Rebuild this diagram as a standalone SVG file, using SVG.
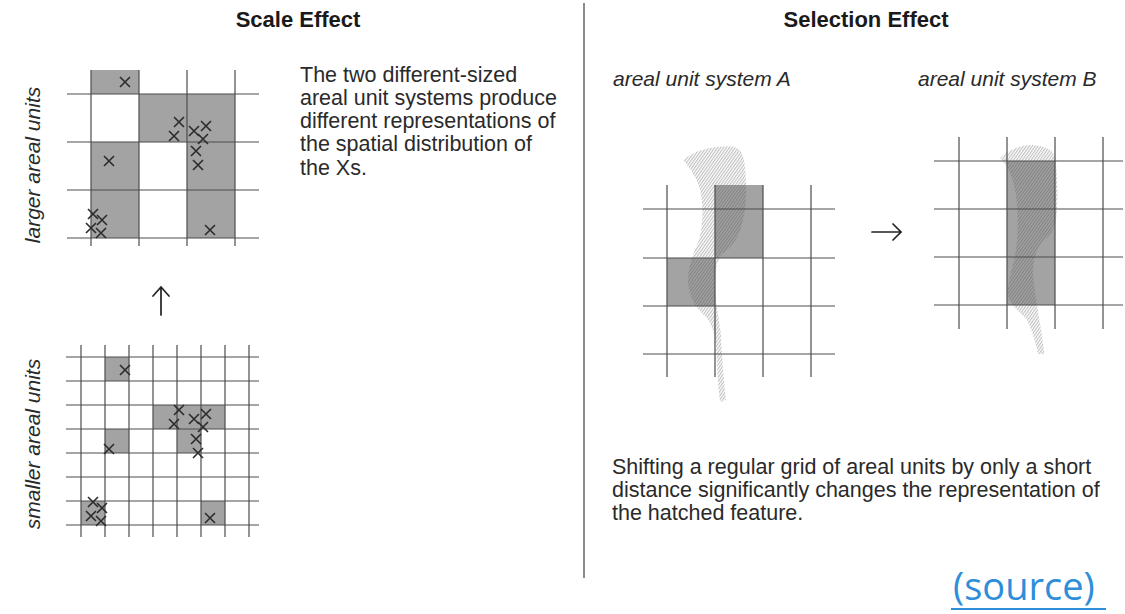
<svg xmlns="http://www.w3.org/2000/svg" xmlns:xlink="http://www.w3.org/1999/xlink" width="1125" height="614" viewBox="0 0 1125 614">
  <style>
    .title { font-family: "Liberation Sans", Arial, sans-serif; font-weight: bold; font-size: 22px; fill: #1a1a1a; text-anchor: middle; }
    .body { font-family: "Liberation Sans", Arial, sans-serif; font-size: 21.5px; fill: #2a2a2a; }
    .label { font-family: "Liberation Sans", Arial, sans-serif; font-style: italic; font-size: 21px; fill: #2a2a2a; }
    .grid { stroke: #4d4d4d; stroke-width: 1.2; fill: none; }
    .cell { fill: #474747; fill-opacity: 0.5; stroke: none; }
    .hatch { fill: url(#hatch); stroke: none; }
    .cross { stroke: #2b2b2b; stroke-width: 1.6; fill: none; }
    .arrow { stroke: #222; stroke-width: 1.7; fill: none; stroke-linecap: round; }
    .link { font-family: "Open Sans", "Noto Sans", sans-serif; font-size: 38px; fill: #2f8ed9; }
  </style>
  <defs>
    <pattern id="hatch" patternUnits="userSpaceOnUse" width="2.4" height="10" patternTransform="rotate(35)">
      <line x1="0.6" y1="0" x2="0.6" y2="10" stroke="#b0b0b0" stroke-width="0.9"/>
    </pattern>
    <path id="x" d="M-5,-5 L5,5 M5,-5 L-5,5"/>
  </defs>

  <rect width="1125" height="614" fill="#ffffff"/>

  <!-- headings and divider -->
  <text class="title" x="298" y="27">Scale Effect</text>
  <text class="title" x="866" y="27">Selection Effect</text>
  <line x1="584" y1="3" x2="584" y2="578" stroke="#666" stroke-width="1.5"/>

  <!-- larger areal units -->
  <g id="larger-units">
    <text class="label" transform="translate(40 165) rotate(-90)" text-anchor="middle">larger areal units</text>
    <rect class="cell" x="91" y="70" width="48" height="24"/>
    <rect class="cell" x="139" y="94" width="96" height="48"/>
    <rect class="cell" x="91" y="142" width="48" height="96"/>
    <rect class="cell" x="187" y="142" width="48" height="96"/>
    <path class="grid" d="M67,94 H259 M67,142 H259 M67,190 H259 M67,238 H259 M91,70 V246 M139,70 V246 M187,70 V246 M235,70 V246"/>
    <g class="cross">
      <use xlink:href="#x" x="125" y="82"/>
      <use xlink:href="#x" x="179" y="122"/>
      <use xlink:href="#x" x="174" y="136"/>
      <use xlink:href="#x" x="194" y="131"/>
      <use xlink:href="#x" x="206" y="126"/>
      <use xlink:href="#x" x="203" y="139"/>
      <use xlink:href="#x" x="196" y="151"/>
      <use xlink:href="#x" x="198" y="165"/>
      <use xlink:href="#x" x="109" y="161"/>
      <use xlink:href="#x" x="93" y="214"/>
      <use xlink:href="#x" x="102" y="220"/>
      <use xlink:href="#x" x="91" y="228"/>
      <use xlink:href="#x" x="101" y="233"/>
      <use xlink:href="#x" x="210" y="230"/>
    </g>
  </g>

  <!-- smaller areal units -->
  <g id="smaller-units">
    <text class="label" transform="translate(40 444) rotate(-90)" text-anchor="middle">smaller areal units</text>
    <rect class="cell" x="105" y="357" width="24" height="24"/>
    <rect class="cell" x="153" y="405" width="72" height="24"/>
    <rect class="cell" x="177" y="429" width="24" height="24"/>
    <rect class="cell" x="105" y="429" width="24" height="24"/>
    <rect class="cell" x="81" y="501" width="24" height="24"/>
    <rect class="cell" x="201" y="501" width="24" height="24"/>
    <path class="grid" d="M66,357 H259 M66,381 H259 M66,405 H259 M66,429 H259 M66,453 H259 M66,477 H259 M66,501 H259 M66,525 H259 M81,345 V537 M105,345 V537 M129,345 V537 M153,345 V537 M177,345 V537 M201,345 V537 M225,345 V537 M249,345 V537"/>
    <g class="cross">
      <use xlink:href="#x" x="125" y="370"/>
      <use xlink:href="#x" x="179" y="410"/>
      <use xlink:href="#x" x="174" y="424"/>
      <use xlink:href="#x" x="194" y="419"/>
      <use xlink:href="#x" x="206" y="414"/>
      <use xlink:href="#x" x="203" y="427"/>
      <use xlink:href="#x" x="196" y="439"/>
      <use xlink:href="#x" x="198" y="453"/>
      <use xlink:href="#x" x="109" y="449"/>
      <use xlink:href="#x" x="93" y="502"/>
      <use xlink:href="#x" x="102" y="508"/>
      <use xlink:href="#x" x="91" y="516"/>
      <use xlink:href="#x" x="101" y="521"/>
      <use xlink:href="#x" x="210" y="518"/>
    </g>
  </g>

  <!-- scale effect caption -->
  <g id="scale-caption">
    <text class="body">
      <tspan x="300" y="82">The two different-sized</tspan>
      <tspan x="300" y="105">areal unit systems produce</tspan>
      <tspan x="300" y="128">different representations of</tspan>
      <tspan x="300" y="151">the spatial distribution of</tspan>
      <tspan x="300" y="175">the Xs.</tspan>
    </text>
  </g>

  <!-- areal unit system A -->
  <g id="system-a">
    <text class="label" x="613" y="86">areal unit system A</text>
    <path class="hatch" d="M683,160 C695,150 712,146 730,146.5 C738,147 742,150 744,160 C747,180 747,205 743,220 C740,235 732,248 722,254 C716,262 714,275 715,290 C716,305 719,318 721,335 C722,360 724,380 726,400 L720,402 C718,385 717,365 716,345 C715,335 712,325 707,318 C696,308 689,298 688,282 C688,265 694,252 699,240 C703,225 704,205 700,190 C697,178 690,168 683,160 Z"/>
    <rect class="cell" x="715" y="185" width="48" height="73"/>
    <rect class="cell" x="667" y="258" width="48" height="48"/>
    <path class="grid" d="M643,209 H835 M643,258 H835 M643,306 H835 M643,354 H835 M667,185 V377 M715,185 V377 M763,185 V377 M811,185 V377"/>
  </g>

  <!-- areal unit system B -->
  <g id="system-b">
    <text class="label" x="918" y="86">areal unit system B</text>
    <path class="hatch" d="M1000,158 C1008,150 1020,145 1032,145 C1045,146 1053,149 1055,157 C1058,175 1058,205 1056,220 C1054,232 1048,237 1042,242 C1036,250 1033,260 1033,272 C1034,290 1038,310 1041,330 C1043,342 1044,350 1044,354 L1038,354 C1036,345 1034,335 1027,320 C1020,312 1011,306 1008,296 C1007,285 1012,270 1015,256 C1018,240 1018,220 1017,205 C1016,190 1012,175 1007,167 C1004,163 1002,160 1000,158 Z"/>
    <rect class="cell" x="1007" y="161" width="48" height="144"/>
    <path class="grid" d="M934,161 H1123 M934,209 H1123 M934,257 H1123 M934,305 H1123 M959,137 V329 M1007,137 V329 M1055,137 V329 M1103,137 V329"/>
  </g>

  <!-- selection effect caption -->
  <g id="selection-caption">
    <text class="body">
      <tspan x="612" y="474">Shifting a regular grid of areal units by only a short</tspan>
      <tspan x="612" y="497">distance significantly changes the representation of</tspan>
      <tspan x="612" y="520">the hatched feature.</tspan>
    </text>
  </g>

  <!-- arrows between panels -->
  <g id="connectors">
    <path class="arrow" d="M161,315 V287 M153,296 L161,287 L169,296"/>
    <path class="arrow" d="M872,232 H901 M893,224 L901,232 L893,240"/>
  </g>

  <!-- link -->
  <g id="source-link">
    <text class="link" x="953" y="600">(source)</text>
    <line x1="951" y1="609" x2="1106" y2="609" stroke="#2f8ed9" stroke-width="2"/>
  </g>
</svg>
